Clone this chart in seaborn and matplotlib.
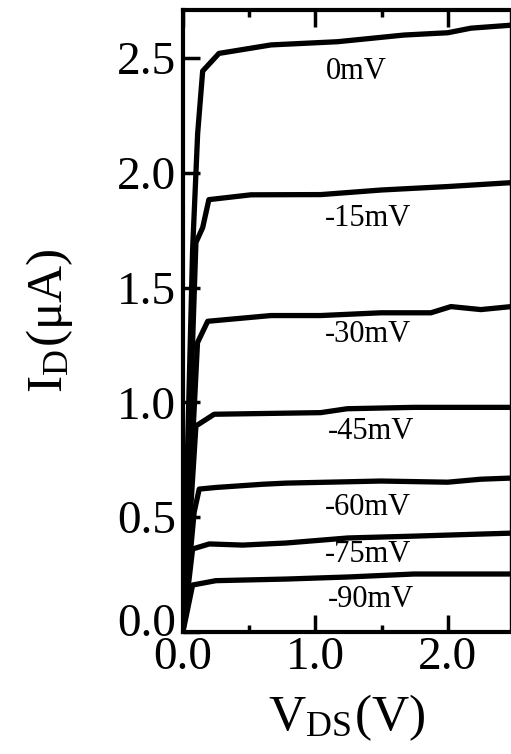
import pandas as pd
import matplotlib
matplotlib.use('Agg')
import matplotlib.pyplot as plt
import matplotlib.transforms as mtransforms
import seaborn as sns
from matplotlib.ticker import MultipleLocator

# gate voltages (labels) and their I-V curves
gate_labels = ['0mV', '-15mV', '-30mV', '-45mV', '-60mV', '-75mV', '-90mV']

vds_0 = [0.0, 0.073, 0.111, 0.149, 0.272, 0.665, 1.168, 1.669, 2.0, 2.175, 2.48]
id_0 = [0.0, 1.665, 2.17, 2.443, 2.52, 2.557, 2.571, 2.60, 2.61, 2.63, 2.643]

vds_15 = [0.0, 0.098, 0.149, 0.196, 0.514, 1.042, 1.5, 2.0, 2.48]
id_15 = [0.0, 1.696, 1.761, 1.883, 1.904, 1.905, 1.925, 1.94, 1.957]

vds_30 = [0.0, 0.11, 0.187, 0.665, 1.04, 1.495, 1.873, 2.024, 2.25, 2.48]
id_30 = [0.0, 1.26, 1.353, 1.378, 1.378, 1.39, 1.39, 1.417, 1.404, 1.417]

vds_45 = [0.0, 0.098, 0.236, 1.04, 1.24, 1.745, 2.48]
id_45 = [0.0, 0.897, 0.948, 0.955, 0.972, 0.978, 0.978]

vds_60 = [0.0, 0.085, 0.123, 0.249, 0.602, 0.778, 1.495, 2.0, 2.25, 2.48]
id_60 = [0.0, 0.522, 0.622, 0.629, 0.643, 0.648, 0.657, 0.652, 0.665, 0.67]

vds_75 = [0.0, 0.073, 0.199, 0.451, 0.778, 1.246, 1.745, 2.25, 2.48]
id_75 = [0.0, 0.361, 0.383, 0.378, 0.387, 0.409, 0.417, 0.426, 0.43]

vds_90 = [0.0, 0.073, 0.249, 0.778, 1.246, 1.745, 2.25, 2.48]
id_90 = [0.0, 0.204, 0.223, 0.23, 0.239, 0.252, 0.252, 0.252]

# where the curve labels sit (data coords)
label_x = [1.31, 1.40, 1.40, 1.42, 1.40, 1.40, 1.42]
label_y = [2.44, 1.80, 1.296, 0.874, 0.543, 0.339, 0.139]

curves = [(vds_0, id_0), (vds_15, id_15), (vds_30, id_30), (vds_45, id_45),
          (vds_60, id_60), (vds_75, id_75), (vds_90, id_90)]

rows = []
for lab, (xs, ys) in zip(gate_labels, curves):
    for i, (xv, yv) in enumerate(zip(xs, ys)):
        rows.append({'vg': lab, 'order': i, 'vds': xv, 'id': yv})
df = pd.DataFrame(rows)

sns.set_style('ticks')
plt.rcParams['font.family'] = ['Liberation Serif', 'DejaVu Serif']
plt.rcParams['mathtext.fontset'] = 'stix'
plt.rcParams['text.color'] = 'black'
plt.rcParams['axes.labelcolor'] = 'black'
plt.rcParams['xtick.color'] = 'black'
plt.rcParams['ytick.color'] = 'black'

fig = plt.figure(figsize=(5.11, 7.54), dpi=100)
ax = fig.add_axes([0.358, 0.162, 0.640, 0.825])

sns.lineplot(data=df, x='vds', y='id', hue='vg', units='vg', estimator=None,
             sort=False, palette=['black'] * len(gate_labels), linewidth=3.8,
             legend=False, ax=ax)

for lab, tx, ty in zip(gate_labels, label_x, label_y):
    ax.text(tx, ty, lab, ha='center', va='center', fontsize=22, color='black')

ax.set_xlim(0, 2.47)
ax.set_ylim(0, 2.71)
ax.xaxis.set_minor_locator(MultipleLocator(0.5))
ax.set_xticks([0, 1, 2])
ax.set_xticklabels(['0.0', '1.0', '2.0'])
ax.set_yticks([0, 0.5, 1.0, 1.5, 2.0, 2.5])
ax.set_yticklabels(['0.0', '0.5', '1.0', '1.5', '2.0', '2.5'])

ax.tick_params(axis='both', which='major', direction='in', length=12, width=2.5,
               labelsize=34, top=True, pad=3, colors='black')
ax.tick_params(axis='x', which='minor', direction='in', length=5, width=2.5, top=True)
ax.tick_params(axis='y', which='major', pad=5)

# the y "0.0" sits a little higher in the original, crowding the x "0.0"
first = ax.get_yticklabels()[0]
first.set_transform(first.get_transform() +
                    mtransforms.ScaledTranslation(0, 9 / 72, fig.dpi_scale_trans))

for side in ['left', 'bottom', 'top']:
    ax.spines[side].set_linewidth(3)
    ax.spines[side].set_color('black')
ax.spines['right'].set_linewidth(1)
ax.spines['right'].set_color('black')

ax.set_xlabel('V$_\\mathregular{DS}$(V)', fontsize=37, labelpad=10, color='black')
ax.set_ylabel('I$_\\mathregular{D}$(μA)', fontsize=37, labelpad=30, color='black')

fig.savefig('out.png', dpi=100)
